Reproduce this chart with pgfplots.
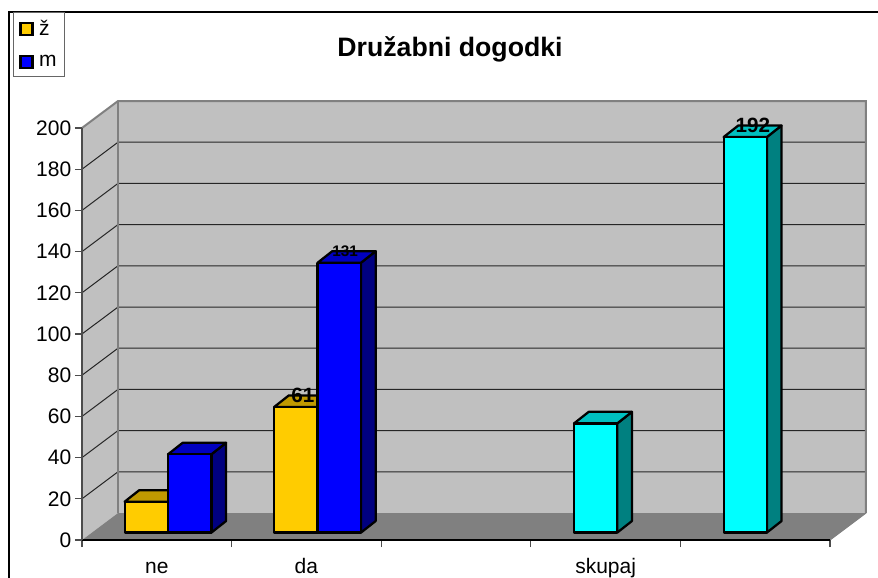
\documentclass[border=0pt]{standalone}
\usepackage{pgfplots}
\pgfplotsset{compat=1.18}
\usepackage{fontspec}
\setmainfont{Liberation Sans}
\definecolor{wall}{HTML}{C0C0C0}
\definecolor{floorc}{HTML}{808080}
\definecolor{yf}{HTML}{FFCC00}\definecolor{yt}{HTML}{C09900}
\definecolor{bf}{HTML}{0000FF}\definecolor{bt}{HTML}{0000C0}\definecolor{bs}{HTML}{000080}
\definecolor{cf}{HTML}{00FFFF}\definecolor{ct}{HTML}{00C0C0}\definecolor{cs}{HTML}{008080}
% x0, x1 (category units), value, front, top, side colours
\newcommand\threeDbar[6]{%
  \pgfmathsetmacro\yb{3.6}%
  \pgfmathsetmacro\yt{#3+3.6}%
  \pgfmathsetmacro\ytt{#3+3.6+5.6}%
  \pgfmathsetmacro\ybb{3.6+5.6}%
  \pgfmathsetmacro\xa{#1+0.098}%
  \pgfmathsetmacro\xb{#2+0.098}%
  \addplot[forget plot,draw=black,line width=1.7pt,line join=round,fill=#6] coordinates {(#2,\yb) (\xb,\ybb) (\xb,\ytt) (#2,\yt)} --cycle;
  \addplot[forget plot,draw=black,line width=1.7pt,line join=round,fill=#5] coordinates {(#1,\yt) (\xa,\ytt) (\xb,\ytt) (#2,\yt)} --cycle;
  \addplot[forget plot,draw=black,line width=1.7pt,line join=round,fill=#4] coordinates {(#1,\yb) (#2,\yb) (#2,\yt) (#1,\yt)} --cycle;
}
% one gridline: value
\newcommand\gridl[1]{%
  \pgfmathsetmacro\yq{#1+13.1}%
  \addplot[forget plot,draw=black!85,line width=0.75pt] coordinates {(0,#1) (0.2406,\yq) (5.2406,\yq)};
}
\begin{document}
\begin{tikzpicture}
\useasboundingbox (-61.5pt,-28.5pt) rectangle (597pt,405pt);
\draw[black,line width=0.8pt] (-54.75pt,-28.5pt) -- (-54.75pt,396pt) -- (597pt,396pt);
\begin{axis}[
  scale only axis,width=561pt,height=309pt,
  xmin=0,xmax=5,ymin=0,ymax=200,clip=false,
  axis lines=left,
  axis line style={-},
  axis on top=true,
  x axis line style={black,line width=0.9pt},
  y axis line style={black!70,line width=1.1pt},
  xtick={0,1,2,3,4,5},xticklabels={},
  ytick={0,20,40,60,80,100,120,140,160,180,200},
  tick align=outside,
  major tick length=5.25pt,
  tick style={black!70,line width=0.8pt},
  extra x ticks={0.5,1.5,3.5},
  extra x tick labels={ne,da,skupaj},
  extra x tick style={major tick length=0pt,tick label style={yshift=-10pt,text height=11.5pt,text depth=3.5pt}},
  tick label style={font=\fontsize{15.75}{18}\selectfont},
  yticklabel style={xshift=0.75pt},
  /pgf/number format/assume math mode=true,
  title={\fontsize{20}{23}\selectfont\bfseries Družabni dogodki},
  title style={at={(0.492,1.1966)},anchor=center,yshift=-7.5pt},
  legend style={at={(-0.0922,1.2816)},anchor=north west,draw=black!60,line width=0.8pt,
    font=\fontsize{15.75}{18}\selectfont,row sep=9.5pt,inner xsep=4.25pt,inner ysep=3.9pt,
    legend cell align=left,/tikz/every even column/.style={column sep=2.5pt}},
  legend image code/.code={\draw[#1] (0pt,-4.5pt) rectangle (9pt,4.5pt);\path[draw=none,fill=none] (12pt,0pt) circle (0pt);},
]
% back wall, side wall, floor
\addplot[forget plot,draw=none,fill=wall] coordinates {(0.2406,13.1) (5.2406,13.1) (5.2406,213.1) (0.2406,213.1)} --cycle;
\addplot[forget plot,draw=none,fill=wall] coordinates {(0,0) (0.2406,13.1) (0.2406,213.1) (0,200)} --cycle;
\addplot[forget plot,draw=none,fill=floorc] coordinates {(0,0) (5,0) (5.2406,13.1) (0.2406,13.1)} --cycle;
\gridl{20}\gridl{40}\gridl{60}\gridl{80}\gridl{100}\gridl{120}\gridl{140}\gridl{160}\gridl{180}
% wall edges
\addplot[forget plot,draw=floorc,line width=1.5pt] coordinates {(0,200) (0.2406,213.1) (5.2406,213.1) (5.2406,13.1)};
\addplot[forget plot,draw=floorc,line width=1.5pt] coordinates {(0.2406,13.1) (0.2406,213.1)};
\addplot[forget plot,draw=floorc,line width=0.8pt] coordinates {(5,0) (5.2406,13.1)};
% bars
\threeDbar{0.285}{0.575}{15}{yf}{yt}{bs}
\threeDbar{0.575}{0.865}{38}{bf}{bt}{bs}
\threeDbar{1.285}{1.575}{61}{yf}{yt}{bs}
\threeDbar{1.575}{1.865}{131}{bf}{bt}{bs}
\threeDbar{3.289}{3.578}{53}{cf}{ct}{cs}
\threeDbar{4.289}{4.578}{192}{cf}{ct}{cs}
% value labels
\node[font=\fontsize{15.5}{18}\selectfont\bfseries] at (axis cs:1.477,70.4) {61};
\node[font=\fontsize{11.5}{14}\selectfont\bfseries] at (axis cs:1.759,140.4) {131};
\node[font=\fontsize{15.5}{18}\selectfont\bfseries] at (axis cs:4.485,201.5) {192};
% legend
\addlegendimage{draw=black,line width=1.7pt,fill=yf}
\addlegendentry{ž}
\addlegendimage{draw=black,line width=1.7pt,fill=bf}
\addlegendentry{m}
\end{axis}
\end{tikzpicture}
\end{document}
